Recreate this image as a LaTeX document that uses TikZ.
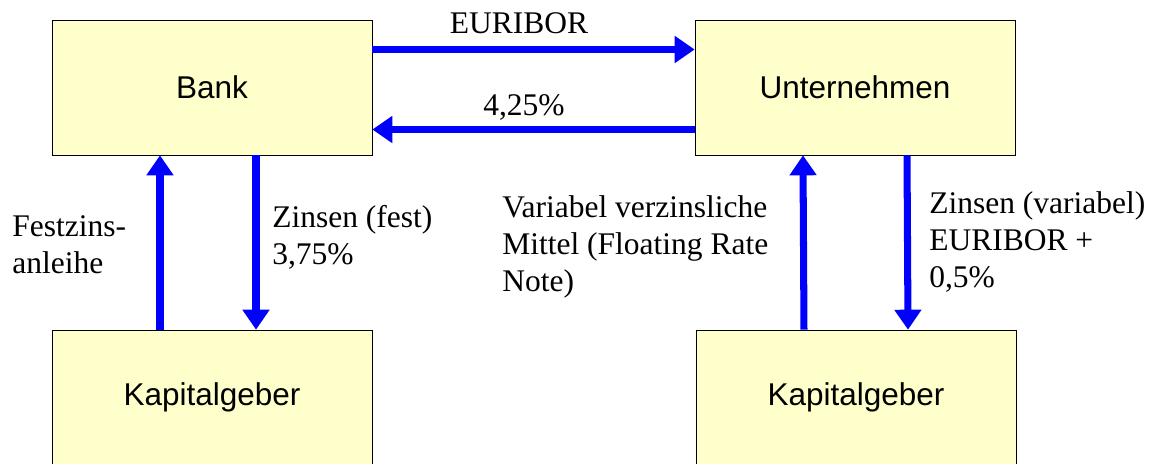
\documentclass[tikz,border=0pt]{standalone}
\usepackage{fontspec}
\setmainfont{Liberation Serif}
\newfontfamily\boxfont{Liberation Sans}
\usetikzlibrary{arrows.meta, positioning}
\definecolor{boxyellow}{RGB}{255,255,204}
\tikzset{
	party/.style={draw=black, thin, fill=boxyellow, minimum width=8cm, minimum height=3.375cm,
		inner sep=0pt, font=\boxfont\fontsize{22.4pt}{26pt}\selectfont},
	flow/.style={draw=blue, line width=5pt, -{Triangle[length=0.5cm, width=0.65cm]}},
	note/.style={inner sep=0pt, align=left, font=\fontsize{22.4pt}{26.4pt}\selectfont}
}

\begin{document}
\begin{tikzpicture}[x=0.025cm, y=-0.025cm]
	% Page frame
	\useasboundingbox (0,0) rectangle (1153,463);
	\clip (0,0) rectangle (1153,463);
	
	% The four parties
	\node[party] (bank) at (212, 87.5) {Bank};
	\node[party] (firma) at (855, 87.5) {Unternehmen};
	\node[party] (geberL) at (212, 397.5) {Kapitalgeber};
	\node[party] (geberR) at (856, 397.5) {Kapitalgeber};
	
	% Swap between bank and company
	\draw[flow] ([yshift=0.95cm]bank.east) -- ([yshift=0.95cm]firma.west);
	\draw[flow] ([yshift=-1.05cm]firma.west) -- ([yshift=-1.05cm]bank.east);
	\node[note, anchor=base] (euribor) at (519, 33) {EURIBOR};
	\node[note, anchor=base] (fix) at (524, 115) {4,25\%};
	
	% Left side: fixed rate bond
	\draw[flow] ([xshift=-1.3cm]geberL.north) -- ([xshift=-1.3cm]bank.south);
	\draw[flow] ([xshift=1.1cm]bank.south) -- ([xshift=1.1cm]geberL.north);
	\node[note, anchor=north west] (anleihe) at (12, 215) {Festzins-\\anleihe};
	\node[note, anchor=north west] (zinsfest) at (272, 205) {Zinsen (fest)\\3,75\%};
	
	% Right side: floating rate note
	\draw[flow] ([xshift=-1.3cm]geberR.north) -- ([xshift=-1.3cm]firma.south);
	\draw[flow] ([xshift=1.3cm]firma.south) -- ([xshift=1.3cm]geberR.north);
	\node[note, anchor=north west] (frn) at (502, 195) {Variabel verzinsliche\\Mittel (Floating Rate\\Note)};
	\node[note, anchor=north west] (zinsvar) at (929, 191) {Zinsen (variabel)\\EURIBOR +\\0,5\%};
	
\end{tikzpicture}
\end{document}
